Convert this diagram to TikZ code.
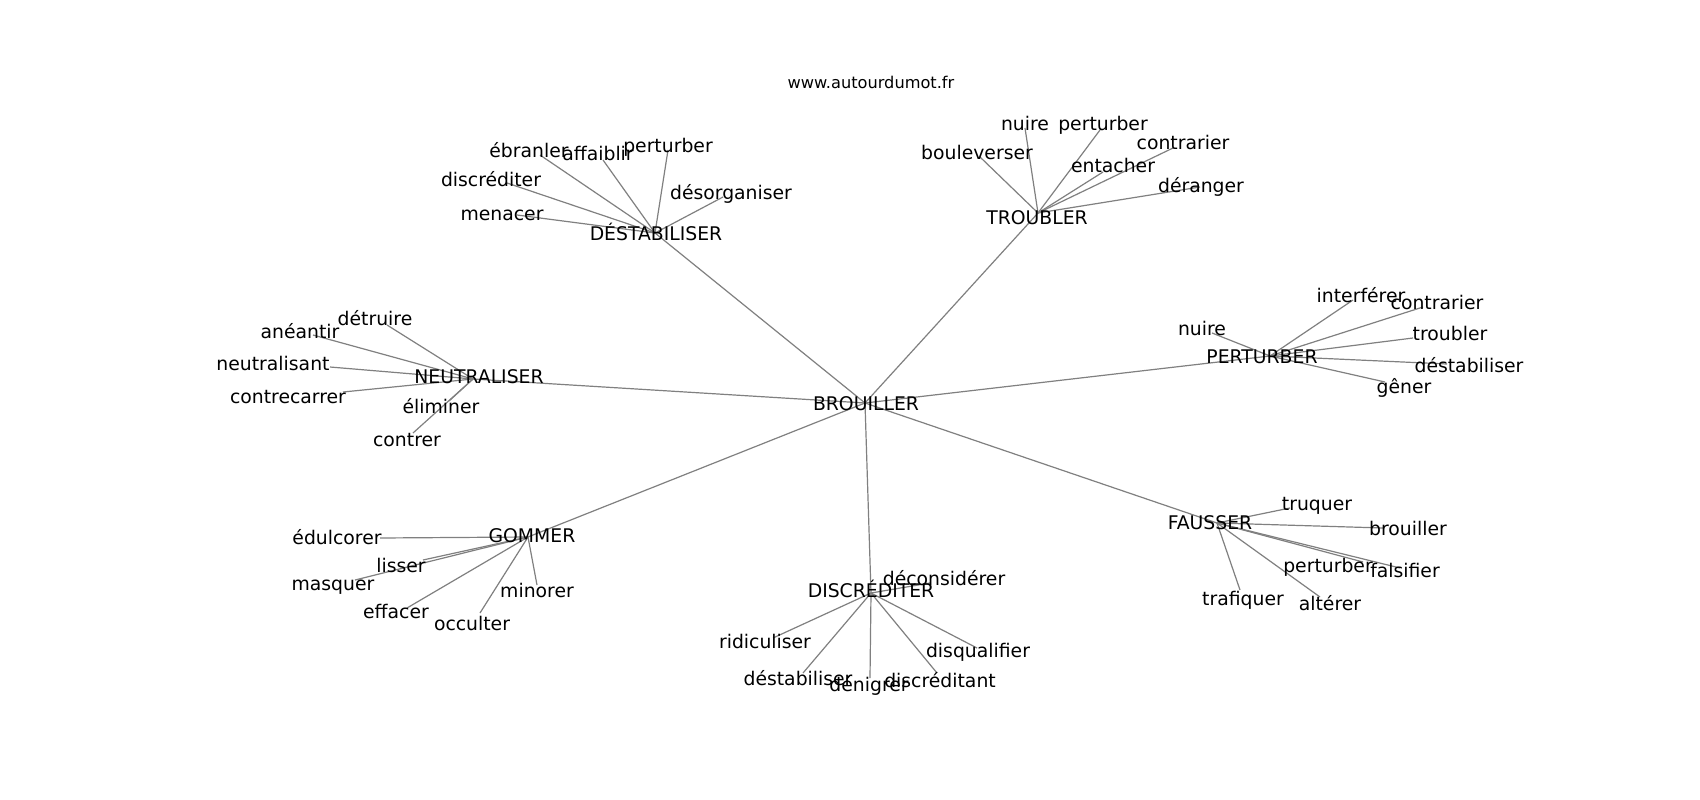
\documentclass[tikz,border=0pt]{standalone}
\usepackage{fontspec}
\setmainfont{DejaVu Sans}
\tikzset{
  edge/.style={draw=gray, line width=1.2bp},
  lbl/.style={anchor=base, inner sep=0pt, yshift=-7bp, font=\fontsize{18.8bp}{22bp}\selectfont},
  ttl/.style={anchor=base, inner sep=0pt, font=\fontsize{16.2bp}{19bp}\selectfont}
}
\begin{document}
\begin{tikzpicture}[x=1bp,y=-1bp]
\fill[white] (0,0) rectangle (1700,800);
\useasboundingbox (0,0) rectangle (1700,800);
% hub points
\coordinate (B) at (865,403);
\coordinate (DS) at (655,233);
\coordinate (TR) at (1038,213);
\coordinate (NE) at (473,379);
\coordinate (PE) at (1270,356);
\coordinate (GO) at (528,537);
\coordinate (DI) at (871,593);
\coordinate (FA) at (1217,523);
% leaf points
\coordinate (ds1) at (540,155);
\coordinate (ds2) at (603,160);
\coordinate (ds3) at (668,150);
\coordinate (ds4) at (507,183);
\coordinate (ds5) at (723,197);
\coordinate (ds6) at (517,215);
\coordinate (tr1) at (1025,128);
\coordinate (tr2) at (1100,130);
\coordinate (tr3) at (980,157);
\coordinate (tr4) at (1103,172);
\coordinate (tr5) at (1173,148);
\coordinate (tr6) at (1200,187);
\coordinate (ne1) at (387,325);
\coordinate (ne2) at (313,335);
\coordinate (ne3) at (330,367);
\coordinate (ne4) at (343,392);
\coordinate (ne5) at (449,401);
\coordinate (ne6) at (413,433);
\coordinate (pe1) at (1353,300);
\coordinate (pe2) at (1423,307);
\coordinate (pe3) at (1212,333);
\coordinate (pe4) at (1413,338);
\coordinate (pe5) at (1447,364);
\coordinate (pe6) at (1385,382);
\coordinate (go1) at (380,538);
\coordinate (go2) at (423,560);
\coordinate (go3) at (355,580);
\coordinate (go4) at (537,585);
\coordinate (go5) at (407,608);
\coordinate (go6) at (480,613);
\coordinate (di1) at (930,583);
\coordinate (di2) at (773,638);
\coordinate (di3) at (977,648);
\coordinate (di4) at (803,673);
\coordinate (di5) at (870,678);
\coordinate (di6) at (937,673);
\coordinate (fa1) at (1290,508);
\coordinate (fa2) at (1383,528);
\coordinate (fa3) at (1363,562);
\coordinate (fa4) at (1400,568);
\coordinate (fa5) at (1240,590);
\coordinate (fa6) at (1320,597);
% edges
\foreach \h in {DS,TR,NE,PE,GO,DI,FA} {\draw[edge] (B) -- (\h);}
\foreach \i in {1,...,6} {
  \draw[edge] (DS) -- (ds\i);
  \draw[edge] (TR) -- (tr\i);
  \draw[edge] (NE) -- (ne\i);
  \draw[edge] (PE) -- (pe\i);
  \draw[edge] (GO) -- (go\i);
  \draw[edge] (DI) -- (di\i);
  \draw[edge] (FA) -- (fa\i);
}
% title
\node[ttl] (title) at (871,88) {www.autourdumot.fr};
% hub labels
\node[lbl] (Bl) at (866,403) {BROUILLER};
\node[lbl] (DSl) at (656,233) {DÉSTABILISER};
\node[lbl] (TRl) at (1037,217) {TROUBLER};
\node[lbl] (NEl) at (479,376) {NEUTRALISER};
\node[lbl] (PEl) at (1262,356) {PERTURBER};
\node[lbl] (GOl) at (532,535) {GOMMER};
\node[lbl] (DIl) at (871,590) {DISCRÉDITER};
\node[lbl] (FAl) at (1210,522) {FAUSSER};
% leaf labels
\node[lbl] (ds1l) at (529,150) {ébranler};
\node[lbl] (ds2l) at (598,153) {affaiblir};
\node[lbl] (ds3l) at (668,145) {perturber};
\node[lbl] (ds4l) at (491,179) {discréditer};
\node[lbl] (ds5l) at (731,192) {désorganiser};
\node[lbl] (ds6l) at (502,213) {menacer};
\node[lbl] (tr1l) at (1025,123) {nuire};
\node[lbl] (tr2l) at (1103,123) {perturber};
\node[lbl] (tr3l) at (977,152) {bouleverser};
\node[lbl] (tr4l) at (1113,165) {entacher};
\node[lbl] (tr5l) at (1183,142) {contrarier};
\node[lbl] (tr6l) at (1201,185) {déranger};
\node[lbl] (ne1l) at (375,318) {détruire};
\node[lbl] (ne2l) at (300,331) {anéantir};
\node[lbl] (ne3l) at (273,363) {neutralisant};
\node[lbl] (ne4l) at (288,396) {contrecarrer};
\node[lbl] (ne5l) at (441,406) {éliminer};
\node[lbl] (ne6l) at (407,439) {contrer};
\node[lbl] (pe1l) at (1361,295) {interférer};
\node[lbl] (pe2l) at (1437,302) {contrarier};
\node[lbl] (pe3l) at (1202,328) {nuire};
\node[lbl] (pe4l) at (1450,333) {troubler};
\node[lbl] (pe5l) at (1469,365) {déstabiliser};
\node[lbl] (pe6l) at (1404,386) {gêner};
\node[lbl] (go1l) at (337,537) {édulcorer};
\node[lbl] (go2l) at (401,565) {lisser};
\node[lbl] (go3l) at (333,583) {masquer};
\node[lbl] (go4l) at (537,590) {minorer};
\node[lbl] (go5l) at (396,611) {effacer};
\node[lbl] (go6l) at (472,623) {occulter};
\node[lbl] (di1l) at (944,578) {déconsidérer};
\node[lbl] (di2l) at (765,641) {ridiculiser};
\node[lbl] (di3l) at (978,650) {disqualifier};
\node[lbl] (di4l) at (798,678) {déstabiliser};
\node[lbl] (di5l) at (869,684) {dénigrer};
\node[lbl] (di6l) at (940,680) {discréditant};
\node[lbl] (fa1l) at (1317,503) {truquer};
\node[lbl] (fa2l) at (1408,528) {brouiller};
\node[lbl] (fa3l) at (1328,565) {perturber};
\node[lbl] (fa4l) at (1405,570) {falsifier};
\node[lbl] (fa5l) at (1243,598) {trafiquer};
\node[lbl] (fa6l) at (1330,603) {altérer};
\end{tikzpicture}
\end{document}
